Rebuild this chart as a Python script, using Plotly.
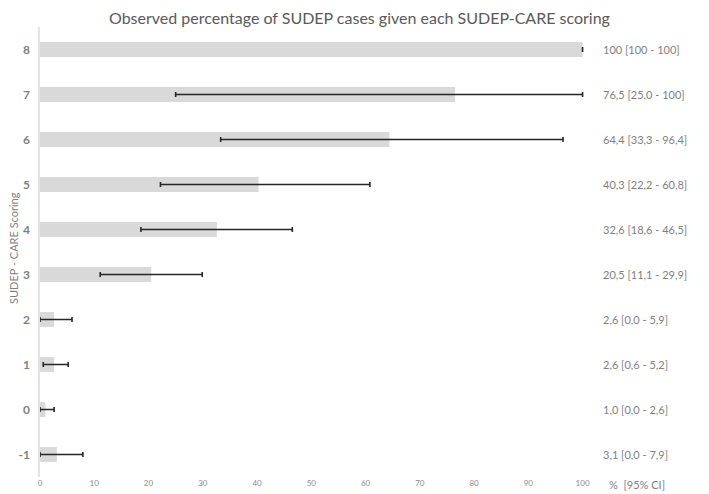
import plotly.graph_objects as go

scores = ["-1", "0", "1", "2", "3", "4", "5", "6", "7", "8"]
pct = [3.1, 1.0, 2.6, 2.6, 20.5, 32.6, 40.3, 64.4, 76.5, 100]
ci_low = [0.0, 0.0, 0.6, 0.0, 11.1, 18.6, 22.2, 33.3, 25.0, 100]
ci_high = [7.9, 2.6, 5.2, 5.9, 29.9, 46.5, 60.8, 96.4, 100, 100]
labels = ["3,1 [0,0 - 7,9]", "1,0 [0,0 - 2,6]", "2,6 [0,6 - 5,2]", "2,6 [0,0 - 5,9]",
          "20,5 [11,1 - 29,9]", "32,6 [18,6 - 46,5]", "40,3 [22,2 - 60,8]",
          "64,4 [33,3 - 96,4]", "76,5 [25,0 - 100]", "100 [100 - 100]"]
x_ticks = [0, 10, 20, 30, 40, 50, 60, 70, 80, 90, 100]

FONT = "Lato"
OFF = 8  # page body margin
W, H = 709 - OFF, 494 - OFF
# plot area in page pixels: x 40..588, y 27..477
ML, MT = 40 - OFF, 27 - OFF
MR, MB = 709 - 588, 494 - 477
plot_w = W - ML - MR
plot_h = H - MT - MB

def px_x(px):
    return (px - OFF - ML) / plot_w

def px_y(py):
    return 1 - (py - OFF - MT) / plot_h

fig = go.Figure()
fig.add_trace(go.Bar(
    y=list(range(len(scores))), x=pct, orientation="h",
    marker=dict(color="#d9d9d9", line=dict(width=0)),
    width=0.33,
    error_x=dict(type="data", symmetric=False,
                 array=[h - p for h, p in zip(ci_high, pct)],
                 arrayminus=[p - l for p, l in zip(pct, ci_low)],
                 color="#262626", thickness=1.6, width=2.5),
    hoverinfo="skip",
))

annotations = []
for i, lab in enumerate(labels):
    annotations.append(dict(x=px_x(601), xref="paper", y=i, yref="y", text=lab,
                            showarrow=False, xanchor="left", yanchor="middle",
                            font=dict(family=FONT, size=11, color="#7f7f7f")))
annotations.append(dict(x=px_x(607), xref="paper", y=px_y(485), yref="paper",
                        text="%  [95% CI]", showarrow=False,
                        xanchor="left", yanchor="middle",
                        font=dict(family=FONT, size=11, color="#7f7f7f")))
annotations.append(dict(x=px_x(14), xref="paper", y=px_y(248), yref="paper",
                        text="SUDEP - CARE Scoring", textangle=-90, showarrow=False,
                        xanchor="center", yanchor="middle",
                        font=dict(family=FONT, size=11, color="#7f7f7f")))
annotations.append(dict(x=px_x(359), xref="paper", y=px_y(17), yref="paper",
                        text="Observed percentage of SUDEP cases given each SUDEP-CARE scoring",
                        showarrow=False, xanchor="center", yanchor="middle",
                        font=dict(family=FONT, size=16, color="#595959")))

fig.update_layout(
    width=W, height=H,
    margin=dict(l=ML, r=MR, t=MT, b=MB, autoexpand=False),
    paper_bgcolor="white", plot_bgcolor="white",
    showlegend=False,
    xaxis=dict(range=[0, 101], tickvals=x_ticks, showgrid=False, zeroline=False,
               showline=False, ticks="", automargin=False,
               tickfont=dict(family=FONT, size=8, color="#8c8c8c")),
    yaxis=dict(range=[-0.5, 9.5], tickvals=list(range(len(scores))), ticktext=scores,
               showgrid=False, zeroline=False, automargin=False,
               showline=True, linecolor="#e3e3e3", linewidth=1.5, ticks="",
               ticklabelstandoff=6,
               tickfont=dict(family=FONT, size=12, color="#7f7f7f", weight="bold")),
    annotations=annotations,
)

fig.write_html("out.html")
